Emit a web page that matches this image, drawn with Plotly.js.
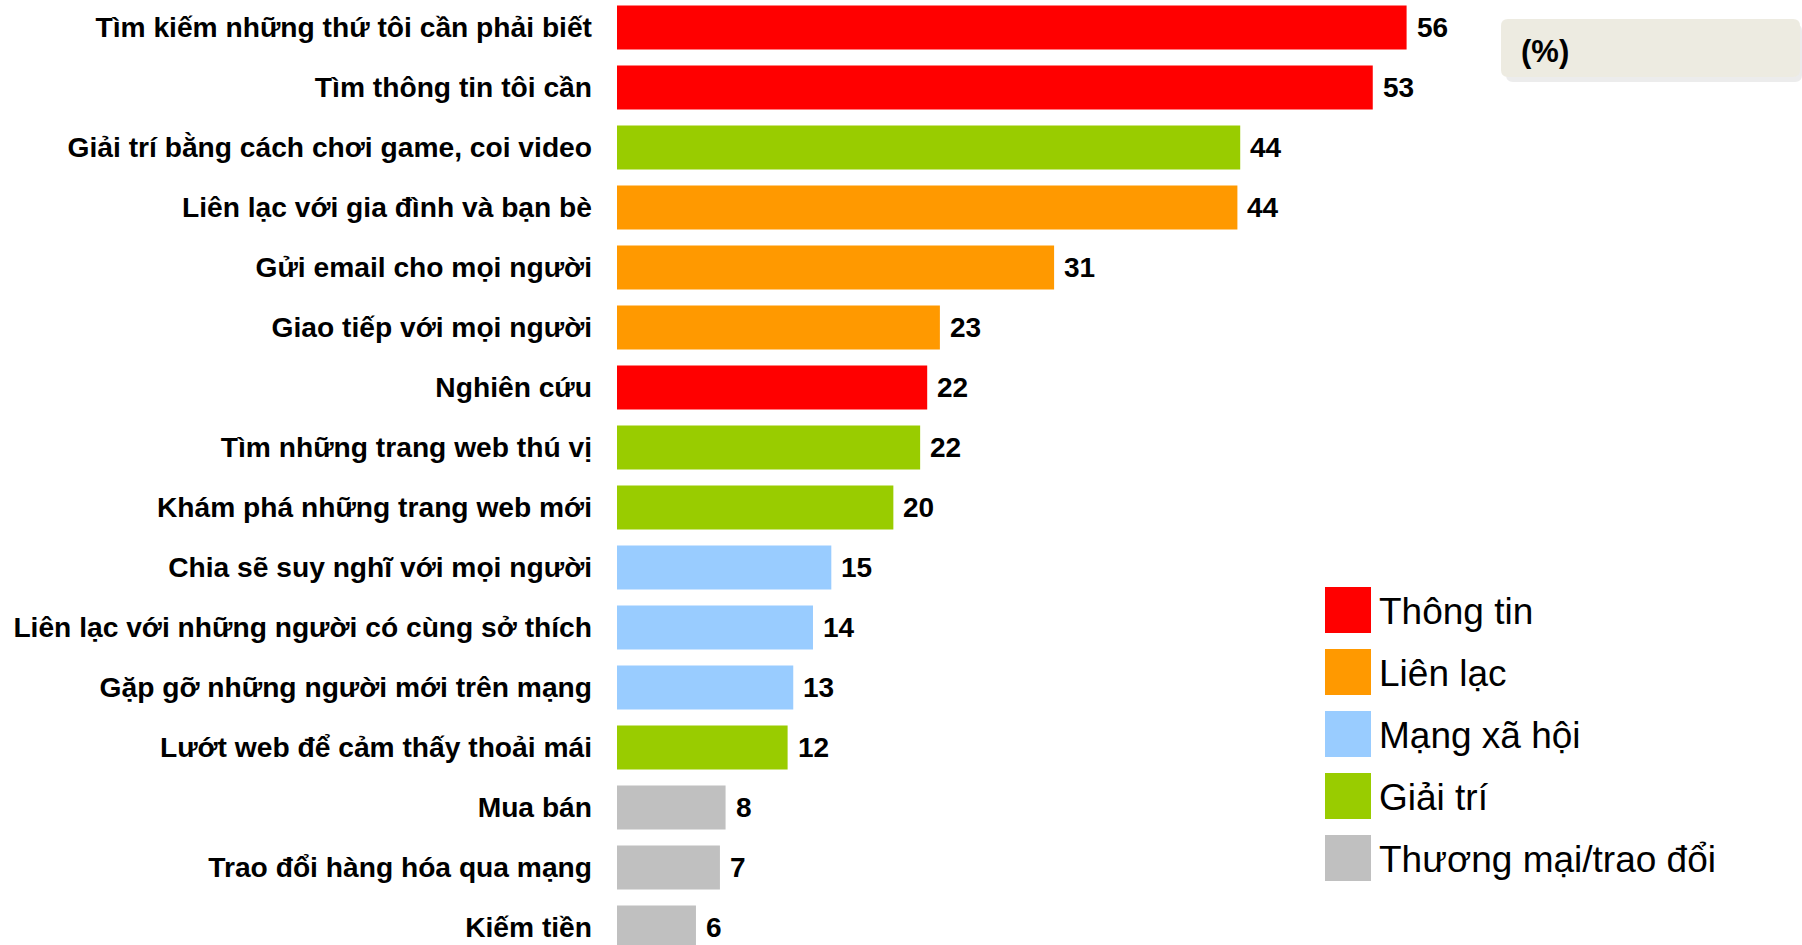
<!DOCTYPE html>
<html>
<head>
<meta charset="utf-8">
<script src="https://cdn.plot.ly/plotly-3.0.1.min.js"></script>
<style>
  html, body { margin: 0; padding: 0; background: #ffffff; }
  #chart { width: 1802px; height: 945px; }
</style>
</head>
<body>
<div id="chart"></div>
<script>
// ---- Data ----
const categories = [
  'Tìm kiếm những thứ tôi cần phải biết',
  'Tìm thông tin tôi cần',
  'Giải trí bằng cách chơi game, coi video',
  'Liên lạc với gia đình và bạn bè',
  'Gửi email cho mọi người',
  'Giao tiếp với mọi người',
  'Nghiên cứu',
  'Tìm những trang web thú vị',
  'Khám phá những trang web mới',
  'Chia sẽ suy nghĩ với mọi người',
  'Liên lạc với những người có cùng sở thích',
  'Gặp gỡ những người mới trên mạng',
  'Lướt web để cảm thấy thoải mái',
  'Mua bán',
  'Trao đổi hàng hóa qua mạng',
  'Kiếm tiền'
];
// bar lengths (percent)
const values = [56.0, 53.6, 44.2, 44.0, 31.0, 22.9, 22.0, 21.5, 19.6, 15.2, 13.9, 12.5, 12.1, 7.7, 7.3, 5.6];
// printed value labels
const valueLabels = ['56', '53', '44', '44', '31', '23', '22', '22', '20', '15', '14', '13', '12', '8', '7', '6'];
const groups = [
  'Thông tin', 'Thông tin', 'Giải trí', 'Liên lạc', 'Liên lạc', 'Liên lạc',
  'Thông tin', 'Giải trí', 'Giải trí', 'Mạng xã hội', 'Mạng xã hội', 'Mạng xã hội',
  'Giải trí', 'Thương mại/trao đổi', 'Thương mại/trao đổi', 'Thương mại/trao đổi'
];
const legendNames = ['Thông tin', 'Liên lạc', 'Mạng xã hội', 'Giải trí', 'Thương mại/trao đổi'];
const legendColors = ['#FF0000', '#FF9900', '#99CCFF', '#99CC00', '#C0C0C0'];
const unitLabel = '(%)';

// ---- Layout helpers ----
const W = 1802, H = 945;
const M = { l: 617, r: 57, t: 0, b: 0 };
const PW = W - M.l - M.r, PH = H - M.t - M.b;
const fx = X => (X - M.l) / PW;
const fy = Y => 1 - (Y - M.t) / PH;
const FONT = '"Liberation Sans", Arial, Helvetica, sans-serif';

function roundRect(x0, y0, x1, y1, r) {
  const p = (X, Y) => fx(X) + ',' + fy(Y);
  return 'M' + p(x0 + r, y0) + ' L' + p(x1 - r, y0) + ' Q' + p(x1, y0) + ' ' + p(x1, y0 + r) +
    ' L' + p(x1, y1 - r) + ' Q' + p(x1, y1) + ' ' + p(x1 - r, y1) +
    ' L' + p(x0 + r, y1) + ' Q' + p(x0, y1) + ' ' + p(x0, y1 - r) +
    ' L' + p(x0, y0 + r) + ' Q' + p(x0, y0) + ' ' + p(x0 + r, y0) + ' Z';
}

const colorOf = g => legendColors[legendNames.indexOf(g)];

const trace = {
  type: 'bar',
  orientation: 'h',
  x: values,
  y: categories,
  marker: { color: groups.map(colorOf), line: { width: 0 } },
  hoverinfo: 'skip',
  showlegend: false
};

const shapes = [];
const annotations = [];

// value labels
values.forEach((v, i) => {
  annotations.push({
    x: v, y: categories[i], xref: 'x', yref: 'y',
    text: valueLabels[i], showarrow: false, xanchor: 'left', yanchor: 'middle',
    xshift: 8,
    font: { family: FONT, size: 28, color: '#000000', weight: 'bold' }
  });
});

// legend
const legX0 = 1325, legSize = 46, legY0 = 610, legStep = 62, legTextX = 1377;
legendNames.forEach((name, i) => {
  const cy = legY0 + i * legStep;
  shapes.push({
    type: 'rect', xref: 'paper', yref: 'paper',
    x0: fx(legX0), x1: fx(legX0 + legSize),
    y0: fy(cy + legSize / 2), y1: fy(cy - legSize / 2),
    fillcolor: legendColors[i], line: { width: 0 }
  });
  annotations.push({
    x: fx(legTextX), y: fy(cy + 1), xref: 'paper', yref: 'paper',
    xanchor: 'left', yanchor: 'middle', showarrow: false,
    text: name, font: { family: FONT, size: 37, color: '#000000' }
  });
});

// unit box with soft shadow
shapes.push({
  type: 'path', xref: 'paper', yref: 'paper', layer: 'above',
  path: roundRect(1506, 24, 1802, 82, 7),
  fillcolor: '#ECECEC', line: { width: 0 }
});
shapes.push({
  type: 'path', xref: 'paper', yref: 'paper', layer: 'above',
  path: roundRect(1501, 19, 1800, 77, 7),
  fillcolor: '#EDEBE1', line: { width: 0 }
});
annotations.push({
  x: fx(1519), y: fy(52), xref: 'paper', yref: 'paper',
  xanchor: 'left', yanchor: 'middle', showarrow: false,
  text: unitLabel, font: { family: FONT, size: 31, color: '#000000', weight: 'bold' }
});

const layout = {
  width: W, height: H,
  margin: { l: M.l, r: M.r, t: M.t, b: M.b, pad: 0 },
  paper_bgcolor: '#ffffff', plot_bgcolor: '#ffffff',
  bargap: 0.267,
  showlegend: false,
  xaxis: {
    range: [0, PW / 14.1], showgrid: false, zeroline: false, showline: false,
    showticklabels: false, ticks: '', fixedrange: true
  },
  yaxis: {
    type: 'category', categoryorder: 'array', categoryarray: categories,
    range: [15.29, -0.46], showgrid: false, zeroline: false, showline: false,
    ticks: '', ticklabelstandoff: 24, automargin: false, fixedrange: true,
    tickfont: { family: FONT, size: 28.2, color: '#000000', weight: 'bold' }
  },
  shapes: shapes,
  annotations: annotations
};

Plotly.newPlot('chart', [trace], layout, { displayModeBar: false, staticPlot: true });
</script>
</body>
</html>
